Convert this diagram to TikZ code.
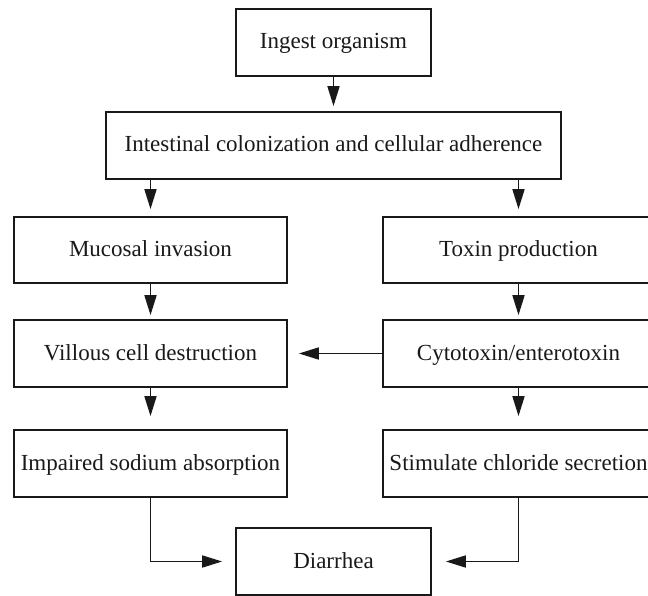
\documentclass[tikz,border=0pt]{standalone}
\usepackage{fontspec}
\setmainfont{Liberation Serif}
\usetikzlibrary{arrows.meta}

\tikzset{
  stepbox/.style={draw=black!90, line width=1.7pt, inner sep=0pt,
    font=\fontsize{23}{27}\selectfont, text=black!90,
    text height=17pt, text depth=4pt},
  flow/.style={draw=black!90, line width=1.7pt,
    -{Triangle[length=20pt,width=12pt]}},
}

\begin{document}
\begin{tikzpicture}[x=1pt, y=-1pt]
  \useasboundingbox (0,0) rectangle (648,596);

  % top of the chain
  \node[stepbox, minimum width=195pt, minimum height=67pt] (ingest) at (333.5,42.5) {Ingest organism};
  \node[stepbox, minimum width=455pt, minimum height=67pt] (colon) at (333.5,145.5) {Intestinal colonization and cellular adherence};

  % invasive branch
  \node[stepbox, minimum width=273pt, minimum height=66pt] (mucosal) at (150.5,250) {Mucosal invasion};
  \node[stepbox, minimum width=273pt, minimum height=67pt] (villous) at (150.5,353.5) {Villous cell destruction};
  \node[stepbox, minimum width=273pt, minimum height=67pt] (sodium) at (150.5,463.5) {Impaired sodium absorption};

  % toxin branch
  \node[stepbox, minimum width=271pt, minimum height=66pt] (toxin) at (518.5,250) {Toxin production};
  \node[stepbox, minimum width=271pt, minimum height=67pt] (cyto) at (518.5,353.5) {Cytotoxin/enterotoxin};
  \node[stepbox, minimum width=271pt, minimum height=67pt] (chloride) at (518.5,463.5) {Stimulate chloride secretion};

  % outcome
  \node[stepbox, minimum width=195pt, minimum height=67pt] (diarrhea) at (333.5,561.5) {Diarrhea};

  % connectors
  \draw[flow, shorten >=5pt] (ingest.south) -- (colon.north);
  \draw[flow, shorten >=7pt] (colon.south -| mucosal.north) -- (mucosal.north);
  \draw[flow, shorten >=7pt] (colon.south -| toxin.north) -- (toxin.north);
  \draw[flow, shorten >=4pt] (mucosal.south) -- (villous.north);
  \draw[flow, shorten >=4pt] (toxin.south) -- (cyto.north);
  \draw[flow, shorten >=13pt] (villous.south) -- (sodium.north);
  \draw[flow, shorten >=13pt] (cyto.south) -- (chloride.north);
  \draw[flow, shorten >=11pt] (cyto.west) -- (villous.east);
  \draw[flow, shorten >=13pt] (sodium.south) |- (diarrhea.west);
  \draw[flow, shorten >=14pt] (chloride.south) |- (diarrhea.east);
\end{tikzpicture}
\end{document}
